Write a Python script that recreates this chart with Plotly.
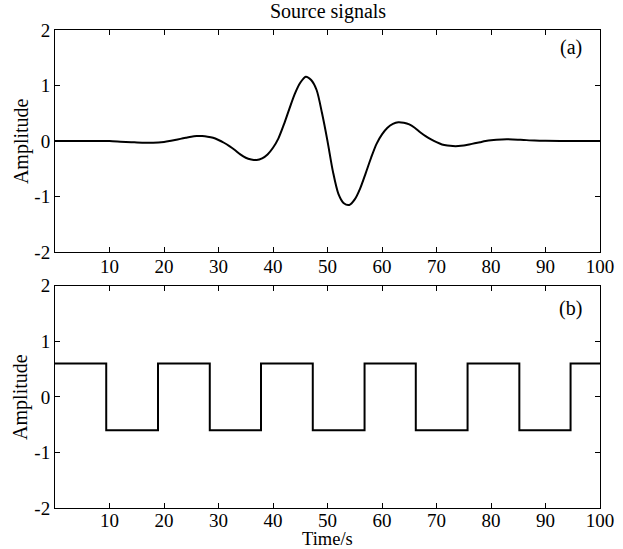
import plotly.graph_objects as go
from plotly.subplots import make_subplots

# (a) wavelet source signal
wave_t = [0, 4, 8, 10, 12, 14, 16, 18, 20, 21, 22, 23, 24, 25, 26, 27, 28, 29, 30,
          31, 32, 33, 34, 35, 36, 37, 38, 39, 40, 41, 42, 43, 44, 45, 46, 47, 48, 49,
          50, 51, 52, 53, 54, 55, 56, 57, 58, 59, 60, 61, 62, 63, 64, 65, 66, 67, 68,
          69, 70, 71, 72, 73, 74, 75, 76, 77, 78, 79, 80, 82, 84, 86, 88, 90, 95, 100]
wave_v = [0, 0.003, 0.002, 0, -0.01, -0.02, -0.03, -0.03, -0.015, 0.0, 0.02, 0.04,
          0.06, 0.08, 0.09, 0.09, 0.08, 0.06, 0.02, -0.03, -0.09, -0.16, -0.24, -0.3,
          -0.33, -0.34, -0.31, -0.24, -0.12, 0.05, 0.3, 0.58, 0.85, 1.05, 1.16, 1.1,
          0.92, 0.5, 0.0, -0.55, -0.95, -1.12, -1.15, -1.05, -0.85, -0.58, -0.3, -0.05,
          0.12, 0.24, 0.31, 0.34, 0.33, 0.3, 0.24, 0.16, 0.09, 0.03, -0.02, -0.06,
          -0.08, -0.09, -0.09, -0.08, -0.06, -0.04, -0.02, 0.0, 0.015, 0.03, 0.03,
          0.02, 0.01, 0.005, 0, 0]

# (b) square wave: switching times and levels
sq_t = [0, 9.4, 18.9, 28.4, 37.8, 47.3, 56.8, 66.2, 75.7, 85.2, 94.6, 100]
sq_v = [0.6, -0.6, 0.6, -0.6, 0.6, -0.6, 0.6, -0.6, 0.6, -0.6, 0.6, 0.6]

x_ticks = [10, 20, 30, 40, 50, 60, 70, 80, 90, 100]
y_ticks = [-2, -1, 0, 1, 2]

FONT = "Liberation Serif"

fig = make_subplots(rows=2, cols=1, vertical_spacing=0.0704)
fig.add_trace(go.Scatter(x=wave_t, y=wave_v, mode="lines", line_shape="spline",
                         line=dict(color="black", width=2, smoothing=0.8), showlegend=False),
              row=1, col=1)
fig.add_trace(go.Scatter(x=sq_t, y=sq_v, mode="lines", line_shape="hv",
                         line=dict(color="black", width=2), showlegend=False),
              row=2, col=1)

axis_common = dict(showgrid=False, zeroline=False, showline=True, linecolor="black",
                   linewidth=1, mirror="ticks", ticks="inside", ticklen=5,
                   tickcolor="black", automargin=False,
                   tickfont=dict(family=FONT, size=19, color="black"))
for r in (1, 2):
    fig.update_xaxes(range=[0, 100], tickvals=x_ticks, ticktext=[str(v) for v in x_ticks],
                     ticklabelstandoff=-3 if r == 1 else -5, row=r, col=1, **axis_common)
    fig.update_yaxes(range=[-2, 2], tickvals=y_ticks, ticktext=[str(v) for v in y_ticks],
                     row=r, col=1, **axis_common)

txt = dict(family=FONT, size=20, color="black")
fig.add_annotation(text="Amplitude", xref="paper", yref="y domain", x=0, y=0.5,
                   xshift=-34, textangle=-90, xanchor="center", yanchor="middle",
                   showarrow=False, font=txt)
fig.add_annotation(text="Amplitude", xref="paper", yref="y2 domain", x=0, y=0.5,
                   xshift=-34, textangle=-90, xanchor="center", yanchor="middle",
                   showarrow=False, font=txt)
fig.add_annotation(text="Time/s", xref="paper", yref="paper", x=0.5, y=0,
                   yshift=-42, xanchor="center", yanchor="bottom", showarrow=False,
                   borderpad=0, font=dict(family=FONT, size=18.5, color="black"))
fig.add_annotation(text="(a)", xref="x domain", yref="y domain", x=0.97, y=0.92,
                   xanchor="right", yanchor="middle", showarrow=False, font=txt)
fig.add_annotation(text="(b)", xref="x2 domain", yref="y2 domain", x=0.97, y=0.9,
                   xanchor="right", yanchor="middle", showarrow=False, font=txt)
fig.add_annotation(text="Source signals", xref="paper", yref="paper", x=0.5, y=1.0,
                   xanchor="center", yanchor="middle", yshift=19, showarrow=False,
                   font=txt)

fig.update_layout(width=623, height=549, margin=dict(l=55, r=23, t=30, b=41),
                  plot_bgcolor="white", paper_bgcolor="white",
                  font=dict(family=FONT, color="black"))
fig.write_html("out.html", config={"displayModeBar": False},
               post_script="document.body.style.margin='0';document.body.style.overflow='hidden';")
